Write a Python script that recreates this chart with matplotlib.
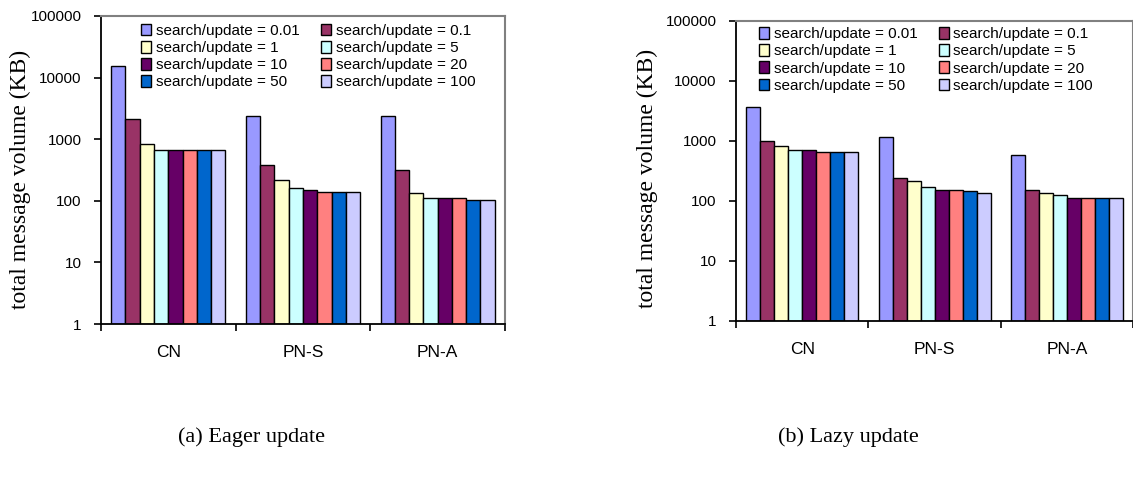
import numpy as np
import matplotlib
matplotlib.use("Agg")
import matplotlib.pyplot as plt
from matplotlib.ticker import FixedLocator, NullFormatter, FixedFormatter

# ============================
# Données
# ============================
categories = ["CN", "PN-S", "PN-A"]
ratios = ["0.01", "0.1", "1", "5", "10", "20", "50", "100"]
colors = ["#9999FF", "#993366", "#FFFFCC", "#CCFFFF",
          "#660066", "#FF8080", "#0066CC", "#CCCCFF"]

# (a) Eager update : une liste par catégorie, un élément par ratio
eager_cn = [15600, 2130, 840, 670, 670, 670, 670, 670]
eager_pns = [2410, 377, 218, 163, 150, 139, 139, 139]
eager_pna = [2410, 320, 132, 110, 110, 110, 102, 102]

# (b) Lazy update
lazy_cn = [3640, 985, 832, 713, 713, 661, 661, 661]
lazy_pns = [1163, 243, 209, 166, 152, 152, 142, 132]
lazy_pna = [575, 152, 132, 122, 111, 111, 111, 111]

ytick_vals = [1, 10, 100, 1000, 10000, 100000]
ytick_labels = ["1", "10", "100", "1000", "10000", "100000"]

SANS = ["Liberation Sans", "DejaVu Sans"]
SERIF = ["Liberation Serif", "DejaVu Serif"]


def draw_panel(ax, data, legend_anchor, ylabel_pos):
    bar_w = 0.106
    x = np.arange(len(categories)) + 0.5
    for i, lab in enumerate(ratios):
        vals = [d[i] for d in data]
        ax.bar(x + (i - 3.5) * bar_w, vals, width=bar_w, bottom=1,
               color=colors[i], edgecolor="black", linewidth=1.0,
               label="search/update = " + lab, zorder=2)

    ax.set_yscale("log")
    ax.set_ylim(1, 100000)
    ax.set_xlim(0, len(categories))
    ax.yaxis.set_major_locator(FixedLocator(ytick_vals))
    ax.yaxis.set_major_formatter(FixedFormatter(ytick_labels))
    ax.yaxis.set_minor_formatter(NullFormatter())
    ax.tick_params(axis="y", which="minor", length=0)
    ax.tick_params(axis="y", which="major", length=5, width=1.2,
                   pad=9, labelsize=11)

    # ticks de séparation + libellés au centre des catégories
    ax.set_xticks(np.arange(len(categories) + 1))
    ax.set_xticklabels([])
    ax.set_xticks(x, minor=True)
    ax.set_xticklabels(categories, minor=True)
    ax.tick_params(axis="x", which="major", length=5, width=1.2)
    ax.tick_params(axis="x", which="minor", length=0, pad=15, labelsize=12.5)
    for t in ax.get_xticklabels(minor=True) + ax.get_yticklabels():
        t.set_family(SANS)

    ax.spines["left"].set_linewidth(1.3)
    ax.spines["bottom"].set_linewidth(1.3)
    ax.spines["top"].set_color("#808080")
    ax.spines["right"].set_color("#808080")
    ax.spines["top"].set_linewidth(1.5)
    ax.spines["right"].set_linewidth(1.5)

    ax.set_ylabel("total message volume (KB)", family=SERIF, fontsize=17)
    ax.yaxis.set_label_coords(*ylabel_pos)

    # légende remplie ligne par ligne comme dans l'original
    handles, labels = ax.get_legend_handles_labels()
    order = [0, 2, 4, 6, 1, 3, 5, 7]
    ax.legend([handles[k] for k in order], [labels[k] for k in order],
              ncol=2, loc="upper left", bbox_to_anchor=legend_anchor,
              frameon=False, borderpad=0, borderaxespad=0,
              handlelength=0.65, handleheight=0.8, handletextpad=0.3,
              labelspacing=0.2, columnspacing=1.4,
              prop={"family": SANS, "size": 11})


fig = plt.figure(figsize=(11.33, 4.8), dpi=100)

ax1 = fig.add_axes([0.0891, 0.325, 0.3566, 0.6417])
draw_panel(ax1, [eager_cn, eager_pns, eager_pna], (0.10, 0.975),
           (-0.172, 0.47))

ax2 = fig.add_axes([0.6496, 0.3319, 0.3508, 0.6244])
draw_panel(ax2, [lazy_cn, lazy_pns, lazy_pna], (0.058, 0.98),
           (-0.195, 0.474))

fig.text(252 / 1133, 1 - 437 / 480, "(a) Eager update", family=SERIF,
         fontsize=16, ha="center", va="center")
fig.text(848 / 1133, 1 - 437 / 480, "(b) Lazy update", family=SERIF,
         fontsize=16, ha="center", va="center")

plt.savefig("out.png", dpi=100)
plt.close()
